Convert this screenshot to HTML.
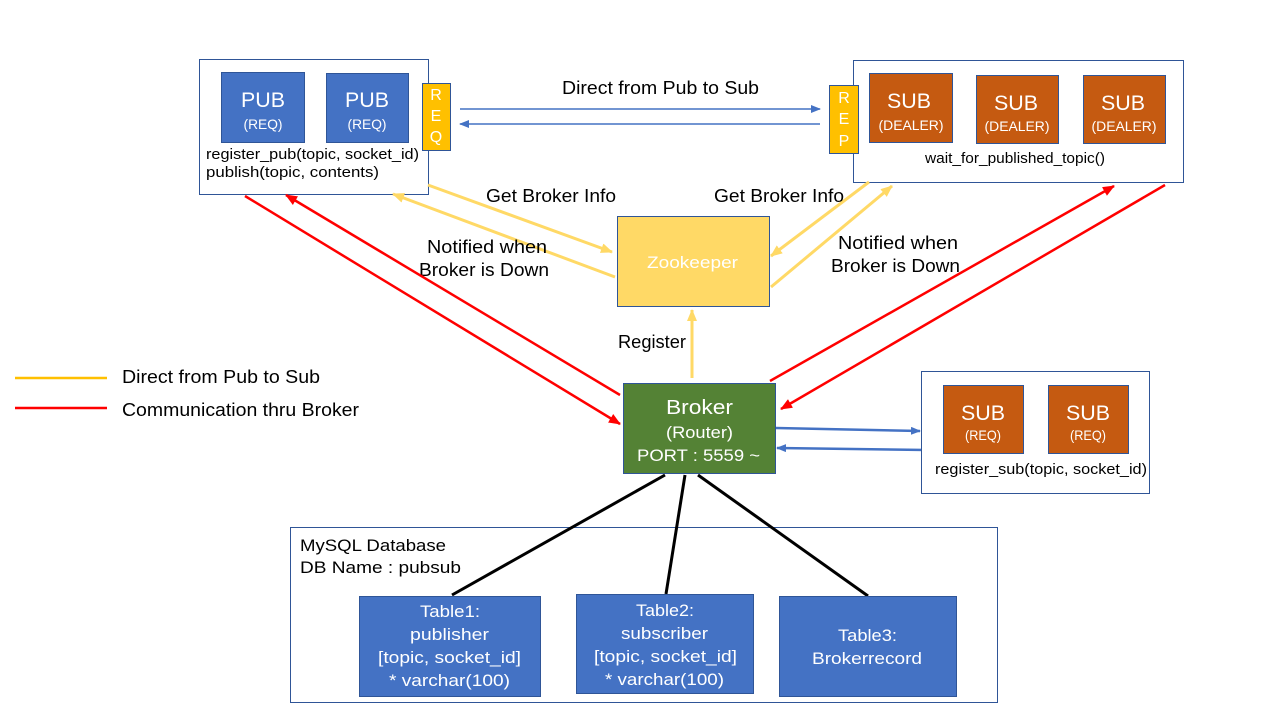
<!DOCTYPE html>
<html><head><meta charset="utf-8"><style>
body{margin:0;background:#fff}
svg{display:block;font-family:"Liberation Sans","Noto Sans CJK KR",sans-serif}
</style></head><body>
<svg width="1280" height="720" viewBox="0 0 1280 720" xmlns="http://www.w3.org/2000/svg">
<defs>
<marker id="ab" markerWidth="10" markerHeight="8" refX="9" refY="4" orient="auto" markerUnits="userSpaceOnUse"><path d="M0,0L10,4L0,8z" fill="#4472C4"/></marker>
<marker id="ar" markerWidth="12" markerHeight="10" refX="11" refY="5" orient="auto" markerUnits="userSpaceOnUse"><path d="M0,0L12,5L0,10z" fill="#FF0000"/></marker>
<marker id="ay" markerWidth="12" markerHeight="10" refX="11" refY="5" orient="auto" markerUnits="userSpaceOnUse"><path d="M0,0L12,5L0,10z" fill="#FFD966"/></marker>
</defs>

<!-- Pub box -->
<rect x="199.5" y="59.5" width="229" height="135" fill="#fff" stroke="#2F5597"/>
<rect x="221.5" y="72.5" width="83" height="70" fill="#4472C4" stroke="#2F5597"/>
<rect x="326.5" y="73.5" width="82" height="69" fill="#4472C4" stroke="#2F5597"/>
<g fill="#fff" text-anchor="middle" lengthAdjust="spacingAndGlyphs">
<text x="263" y="107" font-size="21" textLength="44" lengthAdjust="spacingAndGlyphs">PUB</text><text x="263" y="129" font-size="14" textLength="39" lengthAdjust="spacingAndGlyphs">(REQ)</text>
<text x="367" y="107" font-size="21" textLength="44" lengthAdjust="spacingAndGlyphs">PUB</text><text x="367" y="129" font-size="14" textLength="39" lengthAdjust="spacingAndGlyphs">(REQ)</text>
</g>
<rect x="422.5" y="83.5" width="28" height="67" fill="#FFC000" stroke="#2F5597"/>
<g fill="#fff" text-anchor="middle" font-size="16"><text x="436" y="100">R</text><text x="436" y="121">E</text><text x="436" y="142">Q</text></g>
<text x="206" y="159" font-size="15" textLength="213" lengthAdjust="spacingAndGlyphs">register_pub(topic, socket_id)</text>
<text x="206" y="177" font-size="15" textLength="173" lengthAdjust="spacingAndGlyphs">publish(topic, contents)</text>

<!-- Direct arrows -->
<line x1="460" y1="109" x2="820" y2="109" stroke="#4472C4" stroke-width="1.5" marker-end="url(#ab)"/>
<line x1="820" y1="124" x2="460" y2="124" stroke="#4472C4" stroke-width="1.5" marker-end="url(#ab)"/>
<text x="562" y="94" font-size="18" textLength="197" lengthAdjust="spacingAndGlyphs">Direct from Pub to Sub</text>

<!-- Sub box top -->
<rect x="853.5" y="60.5" width="330" height="122" fill="#fff" stroke="#2F5597"/>
<rect x="829.5" y="85.5" width="29" height="68" fill="#FFC000" stroke="#2F5597"/>
<g fill="#fff" text-anchor="middle" font-size="16"><text x="844" y="103">R</text><text x="844" y="124">E</text><text x="844" y="146">P</text></g>
<rect x="869.5" y="73.5" width="83" height="69" fill="#C55A11" stroke="#2F5597"/>
<rect x="976.5" y="75.5" width="82" height="68" fill="#C55A11" stroke="#2F5597"/>
<rect x="1083.5" y="75.5" width="82" height="68" fill="#C55A11" stroke="#2F5597"/>
<g fill="#fff" text-anchor="middle">
<text x="909" y="108" font-size="21" textLength="44" lengthAdjust="spacingAndGlyphs">SUB</text><text x="911" y="130" font-size="14" textLength="65" lengthAdjust="spacingAndGlyphs">(DEALER)</text>
<text x="1016" y="110" font-size="21" textLength="44" lengthAdjust="spacingAndGlyphs">SUB</text><text x="1017" y="131" font-size="14" textLength="65" lengthAdjust="spacingAndGlyphs">(DEALER)</text>
<text x="1123" y="110" font-size="21" textLength="44" lengthAdjust="spacingAndGlyphs">SUB</text><text x="1124" y="131" font-size="14" textLength="65" lengthAdjust="spacingAndGlyphs">(DEALER)</text>
</g>
<text x="925" y="163" font-size="15" textLength="180" lengthAdjust="spacingAndGlyphs">wait_for_published_topic()</text>

<!-- Zookeeper -->
<rect x="617.5" y="216.5" width="152" height="90" fill="#FFD966" stroke="#2F5597"/>
<text x="647" y="268" font-size="17" fill="#fff" textLength="91" lengthAdjust="spacingAndGlyphs">Zookeeper</text>

<g stroke="#FFD966" stroke-width="3">
<line x1="428" y1="185" x2="612" y2="252" marker-end="url(#ay)"/>
<line x1="615" y1="277" x2="393" y2="194" marker-end="url(#ay)"/>
<line x1="869" y1="182" x2="771" y2="256" marker-end="url(#ay)"/>
<line x1="771" y1="287" x2="892" y2="186" marker-end="url(#ay)"/>
<line x1="692" y1="378" x2="692" y2="310" marker-end="url(#ay)"/>
</g>
<g font-size="18">
<text x="486" y="202" textLength="130" lengthAdjust="spacingAndGlyphs">Get Broker Info</text>
<text x="714" y="202" textLength="130" lengthAdjust="spacingAndGlyphs">Get Broker Info</text>
<text x="427" y="253" textLength="120" lengthAdjust="spacingAndGlyphs">Notified when</text>
<text x="419" y="276" textLength="130" lengthAdjust="spacingAndGlyphs">Broker is Down</text>
<text x="838" y="249" textLength="120" lengthAdjust="spacingAndGlyphs">Notified when</text>
<text x="831" y="272" textLength="129" lengthAdjust="spacingAndGlyphs">Broker is Down</text>
<text x="618" y="348" textLength="68" lengthAdjust="spacingAndGlyphs">Register</text>
</g>

<!-- Legend -->
<line x1="15" y1="378" x2="107" y2="378" stroke="#FFC000" stroke-width="2.5"/>
<text x="122" y="383" font-size="18" textLength="198" lengthAdjust="spacingAndGlyphs">Direct from Pub to Sub</text>
<line x1="15" y1="408" x2="107" y2="408" stroke="#FF0000" stroke-width="2.5"/>
<text x="122" y="416" font-size="18" textLength="237" lengthAdjust="spacingAndGlyphs">Communication thru Broker</text>

<!-- Red lines -->
<g stroke="#FF0000" stroke-width="2.5">
<line x1="245" y1="196" x2="620" y2="424" marker-end="url(#ar)"/>
<line x1="620" y1="395" x2="286" y2="195" marker-end="url(#ar)"/>
<line x1="770" y1="381" x2="1114" y2="186" marker-end="url(#ar)"/>
<line x1="1165" y1="185" x2="781" y2="409" marker-end="url(#ar)"/>
</g>

<!-- Broker -->
<rect x="623.5" y="383.5" width="152" height="90" fill="#548235" stroke="#2F5597"/>
<g fill="#fff">
<text x="666" y="414" font-size="20" textLength="67" lengthAdjust="spacingAndGlyphs">Broker</text>
<text x="666" y="438" font-size="17" textLength="67" lengthAdjust="spacingAndGlyphs">(Router)</text>
<text x="637" y="461" font-size="17" textLength="123" lengthAdjust="spacingAndGlyphs">PORT : 5559 ~</text>
</g>

<g stroke="#4472C4" stroke-width="2.5">
<line x1="776" y1="428" x2="920" y2="431" marker-end="url(#ab)"/>
<line x1="926" y1="450" x2="777" y2="448" marker-end="url(#ab)"/>
</g>

<!-- Right sub box -->
<rect x="921.5" y="371.5" width="228" height="122" fill="#fff" stroke="#2F5597"/>
<rect x="943.5" y="385.5" width="80" height="68" fill="#C55A11" stroke="#2F5597"/>
<rect x="1048.5" y="385.5" width="80" height="68" fill="#C55A11" stroke="#2F5597"/>
<g fill="#fff" text-anchor="middle">
<text x="983" y="420" font-size="21" textLength="44" lengthAdjust="spacingAndGlyphs">SUB</text><text x="983" y="440" font-size="14" textLength="36" lengthAdjust="spacingAndGlyphs">(REQ)</text>
<text x="1088" y="420" font-size="21" textLength="44" lengthAdjust="spacingAndGlyphs">SUB</text><text x="1088" y="440" font-size="14" textLength="36" lengthAdjust="spacingAndGlyphs">(REQ)</text>
</g>
<text x="935" y="474" font-size="15" textLength="212" lengthAdjust="spacingAndGlyphs">register_sub(topic, socket_id)</text>

<!-- DB -->
<rect x="290.5" y="527.5" width="707" height="175" fill="#fff" stroke="#2F5597"/>
<text x="300" y="551" font-size="17" textLength="146" lengthAdjust="spacingAndGlyphs">MySQL Database</text>
<text x="300" y="573" font-size="17" textLength="161" lengthAdjust="spacingAndGlyphs">DB Name : pubsub</text>
<g stroke="#000" stroke-width="3">
<line x1="665" y1="475" x2="452" y2="595"/>
<line x1="685" y1="475" x2="666" y2="594"/>
<line x1="698" y1="475" x2="868" y2="596"/>
</g>
<rect x="359.5" y="596.5" width="181" height="100" fill="#4472C4" stroke="#2F5597"/>
<rect x="576.5" y="594.5" width="177" height="99" fill="#4472C4" stroke="#2F5597"/>
<rect x="779.5" y="596.5" width="177" height="100" fill="#4472C4" stroke="#2F5597"/>
<g fill="#fff" font-size="17">
<text x="420" y="617" textLength="60" lengthAdjust="spacingAndGlyphs">Table1:</text>
<text x="410" y="640" textLength="79" lengthAdjust="spacingAndGlyphs">publisher</text>
<text x="378" y="663" textLength="143" lengthAdjust="spacingAndGlyphs">[topic, socket_id]</text>
<text x="389" y="686" textLength="121" lengthAdjust="spacingAndGlyphs">* varchar(100)</text>
<text x="636" y="616" textLength="58" lengthAdjust="spacingAndGlyphs">Table2:</text>
<text x="621" y="639" textLength="87" lengthAdjust="spacingAndGlyphs">subscriber</text>
<text x="594" y="662" textLength="143" lengthAdjust="spacingAndGlyphs">[topic, socket_id]</text>
<text x="605" y="685" textLength="119" lengthAdjust="spacingAndGlyphs">* varchar(100)</text>
<text x="838" y="641" textLength="59" lengthAdjust="spacingAndGlyphs">Table3:</text>
<text x="812" y="664" textLength="110" lengthAdjust="spacingAndGlyphs">Brokerrecord</text>
</g>
</svg>
</body></html>
